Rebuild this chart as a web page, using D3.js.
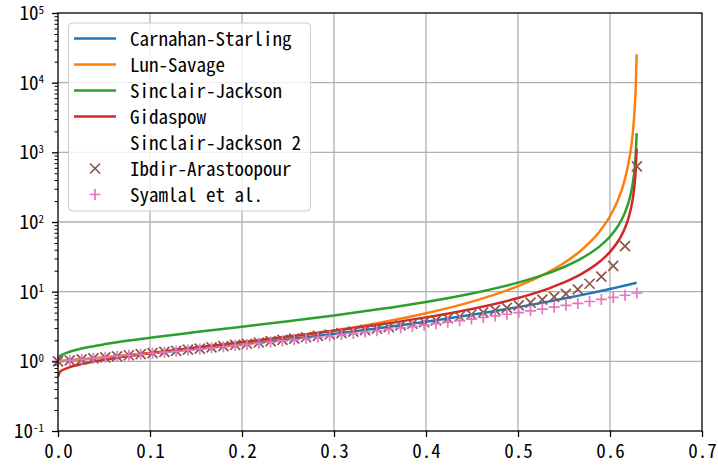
<!DOCTYPE html>
<html>
<head>
<meta charset="utf-8">
<script src="https://cdn.jsdelivr.net/npm/d3@7"></script>
<style>
body { margin: 0; background: #fff; }
text { font-family: "Noto Sans Mono CJK JP", "DejaVu Sans Mono", monospace; fill: #000; }
</style>
</head>
<body>
<script>
// solid volume fraction for the curves
const phiLine = [0, 0.002, 0.005, 0.01, 0.02, 0.035, 0.05, 0.075, 0.1, 0.15, 0.2, 0.25, 0.3, 0.35, 0.4, 0.45,
                 0.5, 0.53, 0.55, 0.57, 0.59, 0.6, 0.61, 0.615, 0.62, 0.623, 0.625, 0.627, 0.628, 0.629];

const carnahan = [1, 1.005, 1.013, 1.025, 1.052, 1.093, 1.137, 1.216, 1.303, 1.506, 1.758, 2.074, 2.478, 3.004, 3.704, 4.658,
                  6.0, 7.079, 7.956, 8.993, 10.23, 10.94, 11.72, 12.14, 12.58, 12.85, 13.04, 13.23, 13.33, 13.42];
const lunSavage = [1, 1.005, 1.013, 1.026, 1.052, 1.094, 1.139, 1.221, 1.313, 1.535, 1.825, 2.217, 2.769, 3.587, 4.889, 7.193,
                   12.01, 18.15, 25.8, 40.58, 76.88, 120.9, 229.0, 360.4, 682.4, 1197, 2033, 4543, 8605, 25640];
const sinclair = [1, 1.172, 1.249, 1.336, 1.463, 1.617, 1.754, 1.969, 2.181, 2.631, 3.148, 3.773, 4.566, 5.624, 7.123, 9.425,
                  13.5, 17.85, 22.59, 30.5, 46.25, 62.0, 93.46, 125.0, 188.0, 268.8, 377.4, 629.3, 944.0, 1890];
const gidaspow = [0.6, 0.703, 0.75, 0.801, 0.878, 0.97, 1.052, 1.181, 1.309, 1.579, 1.889, 2.264, 2.74, 3.374, 4.274, 5.655,
                  8.099, 10.71, 13.56, 18.3, 27.75, 37.2, 56.08, 75.0, 112.8, 161.3, 226.4, 377.6, 566.4, 1134];

// solid volume fraction for the markers
const phiMark = [0, 0.0128, 0.0257, 0.0385, 0.0514, 0.0642, 0.077, 0.0899, 0.1027, 0.1156,
                 0.1284, 0.1412, 0.1541, 0.1669, 0.1798, 0.1926, 0.2054, 0.2183, 0.2311, 0.244,
                 0.2568, 0.2696, 0.2825, 0.2953, 0.3082, 0.321, 0.3338, 0.3467, 0.3595, 0.3724,
                 0.3852, 0.398, 0.4109, 0.4237, 0.4366, 0.4494, 0.4622, 0.4751, 0.4879, 0.5008,
                 0.5136, 0.5264, 0.5393, 0.5521, 0.565, 0.5778, 0.5906, 0.6035, 0.6163, 0.6292];

const ibdir = [1, 1.033, 1.067, 1.104, 1.142, 1.182, 1.223, 1.268, 1.314, 1.363,
               1.414, 1.468, 1.526, 1.586, 1.65, 1.718, 1.789, 1.865, 1.944, 2.03,
               2.12, 2.216, 2.318, 2.427, 2.545, 2.67, 2.804, 2.95, 3.106, 3.277,
               3.461, 3.662, 3.884, 4.128, 4.398, 4.699, 5.037, 5.422, 5.86, 6.373,
               6.975, 7.688, 8.4, 9.3, 10.8, 13.0, 16.4, 23.5, 45.0, 630];
const syamlal = [1, 1.033, 1.067, 1.103, 1.14, 1.179, 1.219, 1.262, 1.306, 1.352,
                 1.401, 1.452, 1.505, 1.561, 1.62, 1.682, 1.747, 1.815, 1.887, 1.963,
                 2.043, 2.127, 2.217, 2.311, 2.412, 2.517, 2.629, 2.75, 2.876, 3.012,
                 3.155, 3.309, 3.474, 3.649, 3.838, 4.04, 4.257, 4.492, 4.743, 5.018,
                 5.312, 5.632, 5.982, 6.361, 6.778, 7.231, 7.728, 8.28, 8.885, 9.561];

const lineNames = ["Carnahan-Starling", "Lun-Savage", "Sinclair-Jackson", "Gidaspow"],
      lineColors = ["#1f77b4", "#ff7f0e", "#2ca02c", "#d62728"],
      lineValues = [carnahan, lunSavage, sinclair, gidaspow];

const legendNames = ["Carnahan-Starling", "Lun-Savage", "Sinclair-Jackson", "Gidaspow",
                     "Sinclair-Jackson 2", "Ibdir-Arastoopour", "Syamlal et al."];

const xTicks = [0, 0.1, 0.2, 0.3, 0.4, 0.5, 0.6, 0.7],
      yExps = [-1, 0, 1, 2, 3, 4, 5];

// canvas and scales
const width = 718, height = 468,
      axLeft = 58, axRight = 702, axTop = 13, axBottom = 431;

const svg = d3.select("body").append("svg")
              .attr("width", width)
              .attr("height", height);

const x = d3.scaleLinear().domain([0, 0.7]).range([axLeft, axRight]),
      y = d3.scaleLog().domain([0.1, 1e5]).range([axBottom, axTop]);

// grid
svg.append("g")
   .selectAll("line")
   .data(xTicks.slice(1, -1))
   .enter().append("line")
   .attr("x1", d => x(d)).attr("x2", d => x(d))
   .attr("y1", axTop).attr("y2", axBottom)
   .attr("stroke", "#b0b0b0").attr("stroke-width", 1.3);

svg.append("g")
   .selectAll("line")
   .data(yExps.slice(1, -1))
   .enter().append("line")
   .attr("x1", axLeft).attr("x2", axRight)
   .attr("y1", d => y(Math.pow(10, d))).attr("y2", d => y(Math.pow(10, d)))
   .attr("stroke", "#b0b0b0").attr("stroke-width", 1.3);

// curves
const plot = svg.append("g");

svg.append("clipPath").attr("id", "clip")
   .append("rect").attr("x", axLeft).attr("y", axTop).attr("width", axRight - axLeft).attr("height", axBottom - axTop);

const line = d3.line()
               .x(d => x(d[0]))
               .y(d => y(d[1]))
               .curve(d3.curveMonotoneX);

lineValues.forEach((vals, i) => {
	plot.append("path")
		.datum(phiLine.map((p, j) => [p, vals[j]]))
		.attr("d", line)
		.attr("fill", "none")
		.attr("stroke", lineColors[i])
		.attr("stroke-width", 2.5)
		.attr("clip-path", "url(#clip)");
});

// marker shapes
const crossPath = s => `M${-s},${-s}L${s},${s}M${-s},${s}L${s},${-s}`,
      plusPath = s => `M${-s},0L${s},0M0,${-s}L0,${s}`;

plot.append("g")
	.selectAll("path")
	.data(phiMark.map((p, j) => [p, ibdir[j]]))
	.enter().append("path")
	.attr("transform", d => "translate(" + x(d[0]) + "," + y(d[1]) + ")")
	.attr("d", crossPath(5))
	.attr("stroke", "#8c564b")
	.attr("stroke-width", 1.7)
	.attr("fill", "none");

plot.append("g")
	.selectAll("path")
	.data(phiMark.map((p, j) => [p, syamlal[j]]))
	.enter().append("path")
	.attr("transform", d => "translate(" + x(d[0]) + "," + y(d[1]) + ")")
	.attr("d", plusPath(5.5))
	.attr("stroke", "#e377c2")
	.attr("stroke-width", 1.7)
	.attr("fill", "none");

// axes
const xAxis = svg.append("g")
                 .attr("transform", "translate(0," + axBottom + ")")
                 .call(d3.axisBottom(x).tickValues(xTicks).tickSize(6).tickPadding(8).tickFormat(d3.format(".1f")));
xAxis.select(".domain").remove();
xAxis.selectAll("line").attr("stroke", "#000").attr("stroke-width", 1.3);
xAxis.selectAll("text").style("font-size", "19px");

const minors = y.ticks().filter(v => Math.abs(Math.log10(v) - Math.round(Math.log10(v))) > 1e-6);

const yMinor = svg.append("g")
                  .attr("transform", "translate(" + axLeft + ",0)")
                  .call(d3.axisLeft(y).tickValues(minors).tickSize(3.5).tickFormat(""));
yMinor.select(".domain").remove();
yMinor.selectAll("line").attr("stroke", "#000").attr("stroke-width", 1);

const yMajor = svg.append("g")
                  .attr("transform", "translate(" + axLeft + ",0)")
                  .call(d3.axisLeft(y).tickValues(yExps.map(e => Math.pow(10, e))).tickSize(6).tickFormat(""));
yMajor.select(".domain").remove();
yMajor.selectAll("line").attr("stroke", "#000").attr("stroke-width", 1.3);

// power-of-ten labels
const yLabel = svg.append("g")
                  .selectAll("text")
                  .data(yExps)
                  .enter().append("text")
                  .attr("x", 44)
                  .attr("y", d => y(Math.pow(10, d)) + 7)
                  .attr("text-anchor", "end")
                  .style("font-size", "19px");
yLabel.append("tspan").text("10");
yLabel.append("tspan")
      .attr("dy", -6.5)
      .style("font-size", "11px")
      .text(d => d < 0 ? "-" + (-d) : d);

// frame
svg.append("rect")
   .attr("x", axLeft).attr("y", axTop)
   .attr("width", axRight - axLeft).attr("height", axBottom - axTop)
   .attr("fill", "none")
   .attr("stroke", "#000")
   .attr("stroke-width", 1.3);

// legend
const legend = svg.append("g");

legend.append("rect")
      .attr("x", 68.5).attr("y", 23)
      .attr("width", 242).attr("height", 188)
      .attr("rx", 4)
      .attr("fill", "#fff").attr("fill-opacity", 0.8)
      .attr("stroke", "#cccccc").attr("stroke-width", 1);

const rowY = i => 38.5 + i * 26;

lineColors.forEach((c, i) => {
	legend.append("line")
		  .attr("x1", 74).attr("x2", 116)
		  .attr("y1", rowY(i)).attr("y2", rowY(i))
		  .attr("stroke", c).attr("stroke-width", 2.5);
});

legend.append("path")
	  .attr("transform", "translate(95," + rowY(5) + ")")
	  .attr("d", crossPath(5))
	  .attr("stroke", "#8c564b").attr("stroke-width", 1.7);
legend.append("path")
	  .attr("transform", "translate(95," + rowY(6) + ")")
	  .attr("d", plusPath(5.5))
	  .attr("stroke", "#e377c2").attr("stroke-width", 1.7);

legend.selectAll("text")
	  .data(legendNames)
	  .enter().append("text")
	  .attr("x", 130)
	  .attr("y", (d, i) => rowY(i) + 7)
	  .style("font-size", "19px")
	  .text(d => d);
</script>
</body>
</html>
